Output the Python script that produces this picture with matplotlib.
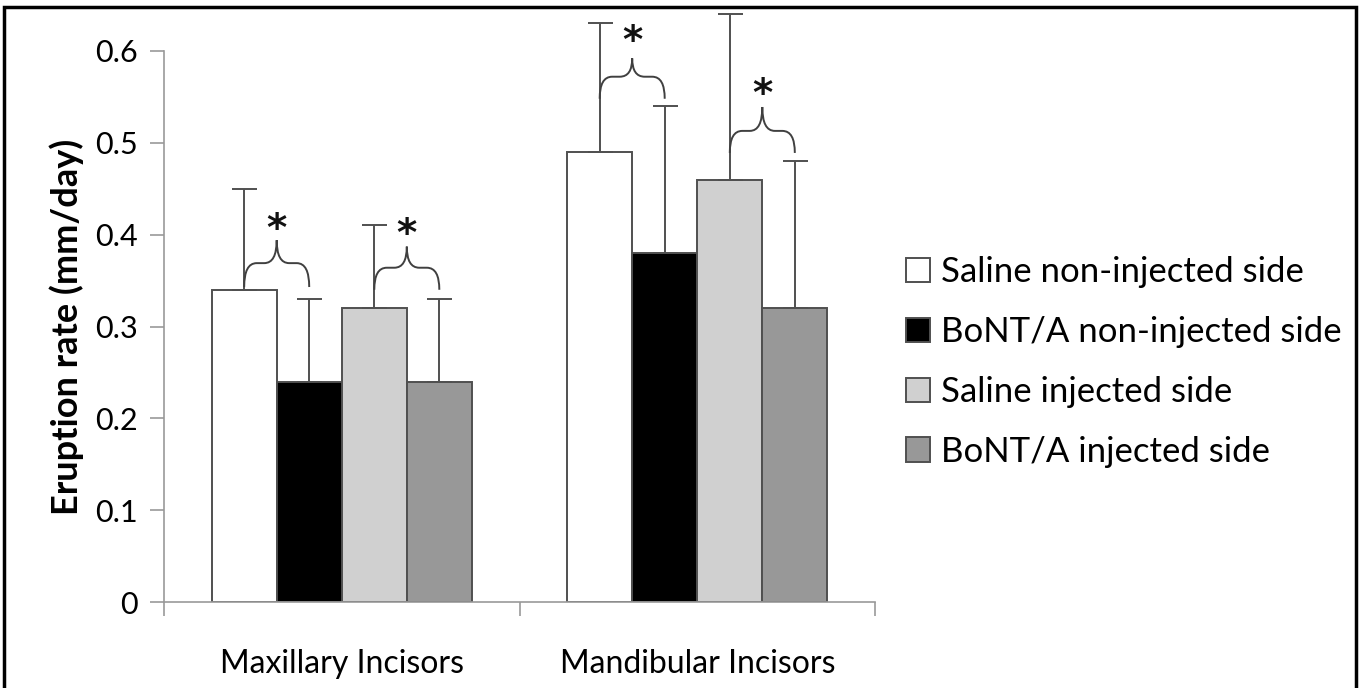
import matplotlib
matplotlib.use("Agg")
import matplotlib.pyplot as plt
import numpy as np
from matplotlib.path import Path
from matplotlib.patches import PathPatch, Rectangle

plt.rcParams['font.family'] = ['Lato', 'DejaVu Sans']

categories = ["Maxillary Incisors", "Mandibular Incisors"]
series_names = ["Saline non-injected side", "BoNT/A non-injected side",
                "Saline injected side", "BoNT/A injected side"]
saline_non = [0.34, 0.49]
bont_non = [0.24, 0.38]
saline_inj = [0.32, 0.46]
bont_inj = [0.24, 0.32]
err_saline_non = [0.11, 0.14]
err_bont_non = [0.09, 0.16]
err_saline_inj = [0.09, 0.18]
err_bont_inj = [0.09, 0.16]
yticks = [0, 0.1, 0.2, 0.3, 0.4, 0.5, 0.6]
ytick_labels = ["0", "0.1", "0.2", "0.3", "0.4", "0.5", "0.6"]

values = [saline_non, bont_non, saline_inj, bont_inj]
errors = [err_saline_non, err_bont_non, err_saline_inj, err_bont_inj]
colors = ["#ffffff", "#000000", "#d0d0d0", "#989898"]

fig = plt.figure(figsize=(13.6, 6.88), dpi=100)
ax = fig.add_axes([164/1360, 1-602/688, (875-164)/1360, (602-51)/688])

x = np.arange(len(categories))
w = 0.183
offs = [-1.5, -0.5, 0.5, 1.5]
edge = "#505050"
centers = []
for i, (vals, errs) in enumerate(zip(values, errors)):
    xi = x + offs[i]*w
    centers.append(xi)
    ax.bar(xi, vals, width=w, color=colors[i], edgecolor=edge, linewidth=1.4,
           label=series_names[i], zorder=2)
    ax.errorbar(xi, vals, yerr=[np.zeros(len(vals)), errs], fmt='none',
                ecolor=edge, elinewidth=1.4, capsize=9, capthick=1.4,
                zorder=3, clip_on=False)

def brace(xa, xb, ybot, yh, ypk):
    xm = (xa + xb) / 2
    dx = 0.035
    verts = [(xa, ybot), (xa, yh), (xa+dx, yh), (xm-dx, yh), (xm, yh), (xm, ypk),
             (xm, yh), (xm+dx, yh), (xb-dx, yh), (xb, yh), (xb, ybot)]
    codes = [Path.MOVETO, Path.CURVE3, Path.CURVE3, Path.LINETO, Path.CURVE3, Path.CURVE3,
             Path.CURVE3, Path.CURVE3, Path.LINETO, Path.CURVE3, Path.CURVE3]
    ax.add_patch(PathPatch(Path(verts, codes), fill=False, edgecolor='#404040',
                           linewidth=1.4, zorder=4, clip_on=False))

# significance braces: (group, left series, right series, bottom, horizontal, peak, star)
braces = [(0, 0, 1, 0.343, 0.369, 0.394, 0.405),
          (0, 2, 3, 0.340, 0.364, 0.387, 0.400),
          (1, 0, 1, 0.548, 0.572, 0.592, 0.610),
          (1, 2, 3, 0.489, 0.513, 0.539, 0.552)]
for g, a, b, yb, yh, yp, ys in braces:
    xa = centers[a][g]
    xb = centers[b][g]
    brace(xa, xb, yb, yh, yp)
    ax.text((xa+xb)/2, ys, "*", ha='center', va='center', fontsize=28,
            fontweight='bold', color='#111111', family='DejaVu Sans', zorder=5)

ax.set_xlim(-0.5, 1.5)
ax.set_ylim(0, 0.6)
ax.set_yticks(yticks)
ax.set_yticklabels(ytick_labels)
ax.set_xticks(x)
ax.set_xticklabels(categories)
ax.set_xticks([-0.5, 0.5, 1.5], minor=True)
ax.tick_params(axis='x', which='major', length=0, pad=34, labelsize=23)
ax.tick_params(axis='x', which='minor', length=10, width=1.2, color='#999999', direction='out')
ax.tick_params(axis='y', length=10, width=1.2, color='#999999', labelsize=22, pad=9)
for s in ['top', 'right']:
    ax.spines[s].set_visible(False)
for s in ['left', 'bottom']:
    ax.spines[s].set_color('#999999')
    ax.spines[s].set_linewidth(1.2)
ax.set_ylabel("Eruption rate (mm/day)", fontsize=26, fontweight='bold', labelpad=8)

fig.legend(*ax.get_legend_handles_labels(), loc='center left',
           bbox_to_anchor=(906/1360, 1-362/688), frameon=False, fontsize=25,
           handlelength=0.7, handleheight=0.7, handletextpad=0.3, labelspacing=0.8,
           borderpad=0, borderaxespad=0)

fig.patches.append(Rectangle((4/1360, -0.1), 1352/1360, 1.1 - 7/688, transform=fig.transFigure,
                             fill=False, edgecolor='black', linewidth=2.5, zorder=10))

fig.savefig("out.png", dpi=100)
